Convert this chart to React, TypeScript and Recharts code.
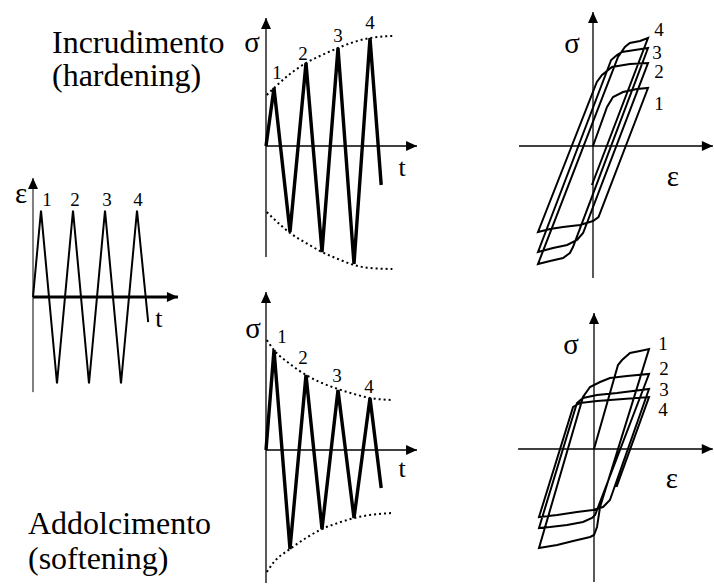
import React from 'react';
import { LineChart, Line, XAxis, YAxis, ReferenceLine, ReferenceDot } from 'recharts';

const FONT = '"Liberation Serif", "Times New Roman", serif';

// time in half-cycles, shared by the strain and stress histories
const cycleTime = [0, 0.5, 1.5, 2.5, 3.5, 4.5, 5.5, 6.5, 7.2];
const strainHistory = [0, 1, -1, 1, -1, 1, -1, 1, -0.29];
const hardeningStress = [0, 58, -86, 83, -106, 98, -118, 108, -39];
const softeningStress = [0, 100, -99, 75, -79, 60, -68, 52, -38];

// peak envelopes (dotted)
const envelopeTime = [0.05, 0.5, 1.5, 2.5, 3.5, 4.5, 5.5, 6.5, 7.9];
const hardeningUpper = [51, 58, 72, 83, 91, 98, 104, 108, 110];
const hardeningLower = [-66, -73, -87, -97, -106, -113, -119, -122, -123];
const softeningUpper = [110, 100, 86, 75, 67, 61, 56, 52, 50];
const softeningLower = [-122, -112, -99, -88, -79, -73, -68, -65, -63];

// stress-strain path, traced in order from the origin
const hardeningLoopStrain = [
  0, 0.255, 0.364, 0.545, 0.8, 1,
  0.1, 0, -0.236, -0.545, -0.78, -1,
  0.07, 0.164, 0.345, 0.67, 1,
  -0.18, -0.29, -0.47, -0.727, -1,
  0.33, 0.436, 0.527, 0.76, 1,
  -0.364, -0.42, -0.545, -0.78, -1,
  0.455, 0.58, 0.67, 0.855, 1,
  -0.02,
];
const hardeningLoopStress = [
  0, 39, 49, 54, 57, 58,
  -71, -75, -79, -81, -83, -86,
  64, 71, 79, 82, 83,
  -87, -94, -99, -102, -106,
  86, 91, 94, 96, 98,
  -101, -107, -112, -115, -118,
  89, 99, 103, 105, 108,
  -39,
];
const softeningLoopStrain = [
  0, 0.436, 0.51, 0.655, 0.836, 1,
  0.11, 0.055, 0, -0.07, -0.38, -0.67, -1,
  -0.2, -0.073, 0.11, 0.29, 0.6, 1,
  0.02, -0.036, -0.2, -0.49, -0.8, -1,
  -0.31, -0.2, 0.055, 0.42, 1,
  0.29, 0.164, -0.02, -0.31, -0.67, -1,
  -0.38, -0.25, 0.055, 0.53, 1,
  0.41,
];
const softeningLoopStress = [
  0, 84, 89, 96, 98, 100,
  -58, -78, -86, -88, -92, -96, -99,
  52, 62, 67, 71, 73, 75,
  -66, -69, -73, -76, -78, -79,
  46, 51, 54, 56, 60,
  -51, -58, -61, -63, -66, -68,
  42, 46, 48, 50, 52,
  -38,
];

const cycleLabels = ['1', '2', '3', '4'];
const peakIndex = [1, 3, 5, 7];
const loopTipIndexH = [5, 16, 26, 36];
const loopTipIndexS = [5, 18, 29, 40];

type Pt = { x: number; y: number };
const zip = (xs: number[], ys: number[]): Pt[] => xs.map((x, i) => ({ x, y: ys[i] }));

type Frame = { left: number; top: number; width: number; height: number; ox: number; oy: number; sx: number; sy: number };

const strainFrame: Frame = { left: 0, top: 165, width: 210, height: 240, ox: 33, oy: 297, sx: 16, sy: 86.5 };
const hardTimeFrame: Frame = { left: 225, top: 0, width: 200, height: 285, ox: 266, oy: 146, sx: 16, sy: 1 };
const softTimeFrame: Frame = { left: 225, top: 285, width: 200, height: 300, ox: 266, oy: 450, sx: 16, sy: 1 };
const hardLoopFrame: Frame = { left: 505, top: 0, width: 209, height: 285, ox: 593, oy: 146, sx: 55, sy: 1 };
const softLoopFrame: Frame = { left: 505, top: 285, width: 209, height: 300, ox: 594, oy: 449, sx: 55, sy: 1 };

function frameDomain(f: Frame) {
  return {
    x: [(f.left - f.ox) / f.sx, (f.left + f.width - f.ox) / f.sx] as [number, number],
    y: [(f.oy - f.top - f.height) / f.sy, (f.oy - f.top) / f.sy] as [number, number],
  };
}

const arrowRight = (props: any) => {
  const { cx, cy } = props;
  return <polygon points={`${cx},${cy} ${cx - 11},${cy - 5} ${cx - 11},${cy + 5}`} fill="#000" />;
};
const arrowUp = (props: any) => {
  const { cx, cy } = props;
  return <polygon points={`${cx},${cy} ${cx - 5},${cy + 11} ${cx + 5},${cy + 11}`} fill="#000" />;
};
const textMark = (text: string, dx: number, dy: number, size: number) => (props: any) => (
  <text
    x={props.cx + dx}
    y={props.cy + dy}
    textAnchor="middle"
    dominantBaseline="central"
    fontFamily={FONT}
    fontSize={size}
    fill="#000"
  >
    {text}
  </text>
);

// horizontal and vertical axis through the origin, each ending in an arrow
function axes(
  id: string,
  xRange: [number, number],
  yRange: [number, number],
  xWidth: number,
  yWidth: number,
  xName: string,
  yName: string,
  xOff: [number, number],
  yOff: [number, number],
  xSize: number,
) {
  return [
    <ReferenceLine key={id + 'h'} segment={[{ x: xRange[0], y: 0 }, { x: xRange[1], y: 0 }]} stroke="#000" strokeWidth={xWidth} />,
    <ReferenceLine key={id + 'v'} segment={[{ x: 0, y: yRange[0] }, { x: 0, y: yRange[1] }]} stroke="#000" strokeWidth={yWidth} />,
    <ReferenceDot key={id + 'ha'} x={xRange[1]} y={0} r={1} shape={arrowRight} />,
    <ReferenceDot key={id + 'va'} x={0} y={yRange[1]} r={1} shape={arrowUp} />,
    <ReferenceDot key={id + 'hn'} x={xRange[1]} y={0} r={1} shape={textMark(xName, xOff[0], xOff[1], xSize)} />,
    <ReferenceDot key={id + 'vn'} x={0} y={yRange[1]} r={1} shape={textMark(yName, yOff[0], yOff[1], 29)} />,
  ];
}

function numberMarks(id: string, xs: number[], ys: number[], idx: number[], offsets: [number, number][]) {
  return idx.map((k, i) => (
    <ReferenceDot
      key={id + i}
      x={xs[k]}
      y={ys[k]}
      r={1}
      shape={textMark(cycleLabels[i], offsets[i][0], offsets[i][1], 19)}
    />
  ));
}

function Panel({ frame, children }: { frame: Frame; children: React.ReactNode }) {
  const d = frameDomain(frame);
  return (
    <div style={{ position: 'absolute', left: frame.left, top: frame.top }}>
      <LineChart width={frame.width} height={frame.height} margin={{ top: 0, right: 0, bottom: 0, left: 0 }}>
        <XAxis type="number" dataKey="x" domain={d.x} hide allowDataOverflow />
        <YAxis type="number" dataKey="y" domain={d.y} hide allowDataOverflow />
        {children}
      </LineChart>
    </div>
  );
}

const titleStyle: React.CSSProperties = {
  position: 'absolute',
  fontFamily: FONT,
  fontSize: 32,
  color: '#000',
  whiteSpace: 'nowrap',
};

export default function App() {
  return (
    <div style={{ position: 'absolute', left: 0, top: 0, width: 714, height: 585, background: '#fff', overflow: 'hidden' }}>
      <div style={{ ...titleStyle, left: 52, top: 26, lineHeight: '33px' }}>
        Incrudimento
        <br />
        (hardening)
      </div>
      <div style={{ ...titleStyle, left: 28, top: 506, lineHeight: '35px' }}>
        Addolcimento
        <br />
        (softening)
      </div>

      <Panel frame={strainFrame}>
        {axes('e', [0, 9.06], [-1.1, 1.376], 3, 1, 't', 'ε', [-19, 21], [-12, 15], 26)}
        <Line data={zip(cycleTime, strainHistory)} dataKey="y" type="linear" stroke="#000" strokeWidth={2} dot={false} isAnimationActive={false} />
        {numberMarks('en', cycleTime, strainHistory, peakIndex, [[6, -11], [2, -11], [2, -11], [1, -11]])}
      </Panel>

      <Panel frame={hardTimeFrame}>
        {axes('h', [0, 9.44], [-111, 128], 1.7, 1.3, 't', 'σ', [-15, 21], [-14, 24], 26)}
        <Line data={zip(envelopeTime, hardeningUpper)} dataKey="y" type="monotone" stroke="#000" strokeWidth={2} strokeDasharray="2 3" dot={false} isAnimationActive={false} />
        <Line data={zip(envelopeTime, hardeningLower)} dataKey="y" type="monotone" stroke="#000" strokeWidth={2} strokeDasharray="2 3" dot={false} isAnimationActive={false} />
        <Line data={zip(cycleTime, hardeningStress)} dataKey="y" type="linear" stroke="#000" strokeWidth={3.4} dot={false} isAnimationActive={false} />
        {numberMarks('hn', cycleTime, hardeningStress, peakIndex, [[3, -16], [-3, -10], [0, -13], [0, -16]])}
      </Panel>

      <Panel frame={softTimeFrame}>
        {axes('s', [0, 9.44], [-133, 158], 1.7, 1.3, 't', 'σ', [-15, 18], [-13, 36], 26)}
        <Line data={zip(envelopeTime, softeningUpper)} dataKey="y" type="monotone" stroke="#000" strokeWidth={2} strokeDasharray="2 3" dot={false} isAnimationActive={false} />
        <Line data={zip(envelopeTime, softeningLower)} dataKey="y" type="monotone" stroke="#000" strokeWidth={2} strokeDasharray="2 3" dot={false} isAnimationActive={false} />
        <Line data={zip(cycleTime, softeningStress)} dataKey="y" type="linear" stroke="#000" strokeWidth={3.4} dot={false} isAnimationActive={false} />
        {numberMarks('sn', cycleTime, softeningStress, peakIndex, [[8, -14], [-3, -18], [-1, -15], [-1, -12]])}
      </Panel>

      <Panel frame={hardLoopFrame}>
        {axes('hl', [-1.345, 2.18], [-132, 134], 1.3, 1.3, 'ε', 'σ', [-40, 30], [-21, 31], 29)}
        <Line data={zip(hardeningLoopStrain, hardeningLoopStress)} dataKey="y" type="linear" stroke="#000" strokeWidth={2} dot={false} isAnimationActive={false} />
        {numberMarks('hln', hardeningLoopStrain, hardeningLoopStress, loopTipIndexH, [[11, 15], [11, 8], [9, 4], [11, -9]])}
      </Panel>

      <Panel frame={softLoopFrame}>
        {axes('sl', [-1.38, 2.16], [-133, 136], 1.3, 1.3, 'ε', 'σ', [-41, 29], [-23, 31], 29)}
        <Line data={zip(softeningLoopStrain, softeningLoopStress)} dataKey="y" type="linear" stroke="#000" strokeWidth={2} dot={false} isAnimationActive={false} />
        {numberMarks('sln', softeningLoopStrain, softeningLoopStress, loopTipIndexS, [[14, -6], [15, -6], [15, 0], [14, 12]])}
      </Panel>
    </div>
  );
}
